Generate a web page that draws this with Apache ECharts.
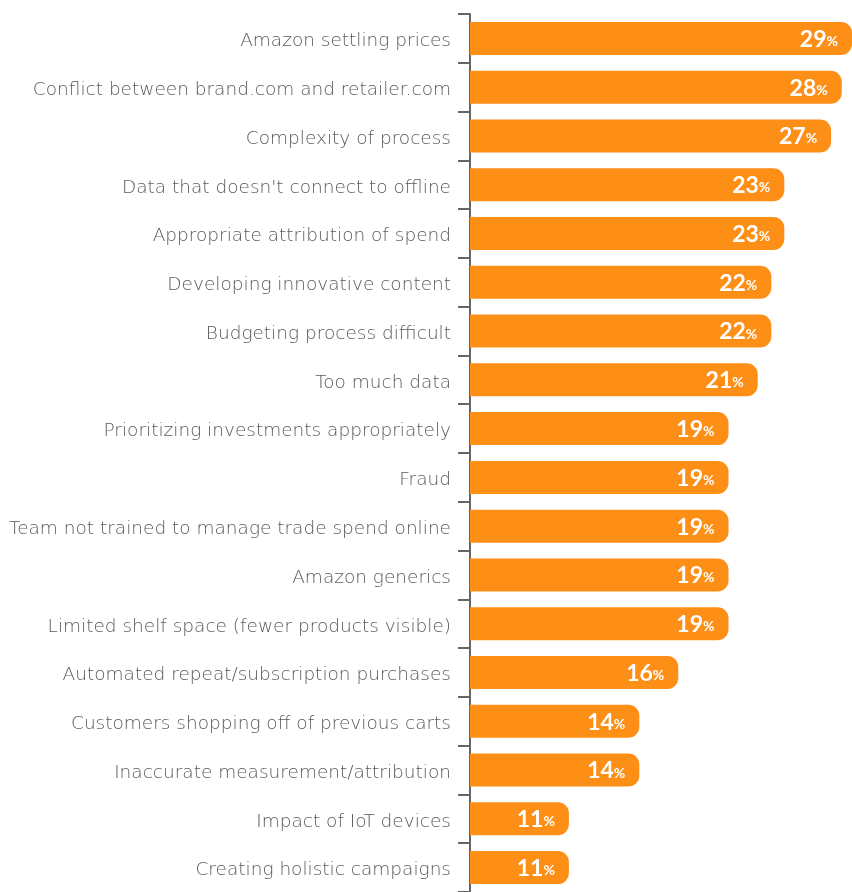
<!DOCTYPE html>
<html>
<head>
<meta charset="utf-8">
<script src="https://cdn.jsdelivr.net/npm/echarts@6/dist/echarts.min.js"></script>
<style>html,body{margin:0;padding:0;background:#fff;}#c{width:852px;height:892px;}</style>
</head>
<body>
<div id="c"></div>
<script>
const categories = [
  "Amazon settling prices",
  "Conflict between brand.com and retailer.com",
  "Complexity of process",
  "Data that doesn't connect to offline",
  "Appropriate attribution of spend",
  "Developing innovative content",
  "Budgeting process difficult",
  "Too much data",
  "Prioritizing investments appropriately",
  "Fraud",
  "Team not trained to manage trade spend online",
  "Amazon generics",
  "Limited shelf space (fewer products visible)",
  "Automated repeat/subscription purchases",
  "Customers shopping off of previous carts",
  "Inaccurate measurement/attribution",
  "Impact of IoT devices",
  "Creating holistic campaigns"
];
const values = [29, 28, 27, 23, 23, 22, 22, 21, 19, 19, 19, 19, 19, 16, 14, 14, 11, 11];

const chart = echarts.init(document.getElementById('c'));
chart.setOption({
  animation: false,
  grid: { left: 470, top: 14, right: 0, height: 882, containLabel: false },
  xAxis: {
    type: 'log', min: 7.84, max: 29,
    show: false
  },
  yAxis: {
    type: 'category', inverse: true, data: categories,
    axisLine: { show: true, lineStyle: { color: '#666', width: 2 } },
    axisTick: { show: true, length: 12, alignWithLabel: false, lineStyle: { color: '#666', width: 2 } },
    axisLabel: {
      margin: 19,
      formatter: v => '{t|' + v + '}',
      rich: { t: { color: '#5a5a5a', fontFamily: 'DejaVu Sans', fontWeight: 200, fontSize: 18.5, padding: [6, 0, 0, 0] } }
    }
  },
  series: [{
    type: 'bar', data: values, barWidth: 33,
    itemStyle: { color: '#fd8e16', borderRadius: [0, 11, 11, 0] },
    label: {
      show: true, position: 'insideRight', distance: 14,
      formatter: p => '{a|' + p.value + '}{b|%}',
      rich: {
        a: { color: '#fff', fontFamily: 'Lato', fontWeight: 'bold', fontSize: 23, padding: [2, 0, 0, 0] },
        b: { color: '#fff', fontFamily: 'Lato', fontWeight: 'bold', fontSize: 14, padding: [6, 0, 0, 0] }
      }
    }
  }]
});
</script>
</body>
</html>
